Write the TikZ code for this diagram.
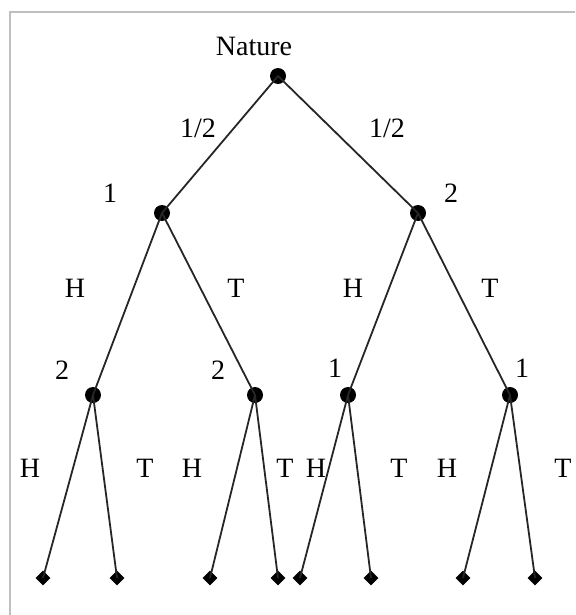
\documentclass[tikz,border=0pt]{standalone}
\usepackage{fontspec}
\setmainfont{Liberation Serif}
\usetikzlibrary{shapes.geometric}
\begin{document}
\begin{tikzpicture}[x=1pt,y=-1pt,
  every node/.style={font=\fontsize{28}{32}\selectfont},
  dec/.style={circle,fill=black,inner sep=0pt,minimum size=16pt},
  leaf/.style={diamond,fill=black,inner sep=0pt,minimum size=15pt},
  edge/.style={draw=black!85,line width=1.8pt},
  lab/.style={inner sep=0pt}]
\useasboundingbox (0,0) rectangle (575,615);
% frame lines
\draw[black!25,line width=1.5pt] (10,615) -- (10,12) -- (575,12);
% decision nodes
\node[dec] (n)  at (278,76) {};
\node[dec] (a)  at (162,213) {};
\node[dec] (b)  at (418,213) {};
\node[dec] (aa) at (93,395) {};
\node[dec] (ab) at (255,395) {};
\node[dec] (ba) at (348,395) {};
\node[dec] (bb) at (510,395) {};
% terminal nodes
\foreach \nm/\x in {t1/43,t2/117,t3/210,t4/278,t5/300,t6/371,t7/463,t8/535}
  \node[leaf] (\nm) at (\x,578) {};
% branches
\draw[edge] (n.center) -- (a.center);
\draw[edge] (n.center) -- (b.center);
\draw[edge] (a.center) -- (aa.center);
\draw[edge] (a.center) -- (ab.center);
\draw[edge] (b.center) -- (ba.center);
\draw[edge] (b.center) -- (bb.center);
\draw[edge] (aa.center) -- (t1.center);
\draw[edge] (aa.center) -- (t2.center);
\draw[edge] (ab.center) -- (t3.center);
\draw[edge] (ab.center) -- (t4.center);
\draw[edge] (ba.center) -- (t5.center);
\draw[edge] (ba.center) -- (t6.center);
\draw[edge] (bb.center) -- (t7.center);
\draw[edge] (bb.center) -- (t8.center);
% labels
\node[lab] (lnat) at (254,46) {Nature};
\node[lab] (lp1) at (198,128) {1/2};
\node[lab] (lp2) at (387,128) {1/2};
\node[lab] (l1) at (110,193) {1};
\node[lab] (l2) at (451,193) {2};
\node[lab] (h1) at (75,288) {H};
\node[lab] (t1l) at (236,288) {T};
\node[lab] (h2) at (353,288) {H};
\node[lab] (t2l) at (490,288) {T};
\node[lab] (p1) at (62,370) {2};
\node[lab] (p2) at (218,370) {2};
\node[lab] (p3) at (335,368) {1};
\node[lab] (p4) at (522,368) {1};
\foreach \nm/\x/\t in {q1/30/H,q2/145/T,q3/192/H,q4/285/T,q5/316/H,q6/399/T,q7/447/H,q8/563/T}
  \node[lab] (\nm) at (\x,468) {\t};
\end{tikzpicture}
\end{document}
